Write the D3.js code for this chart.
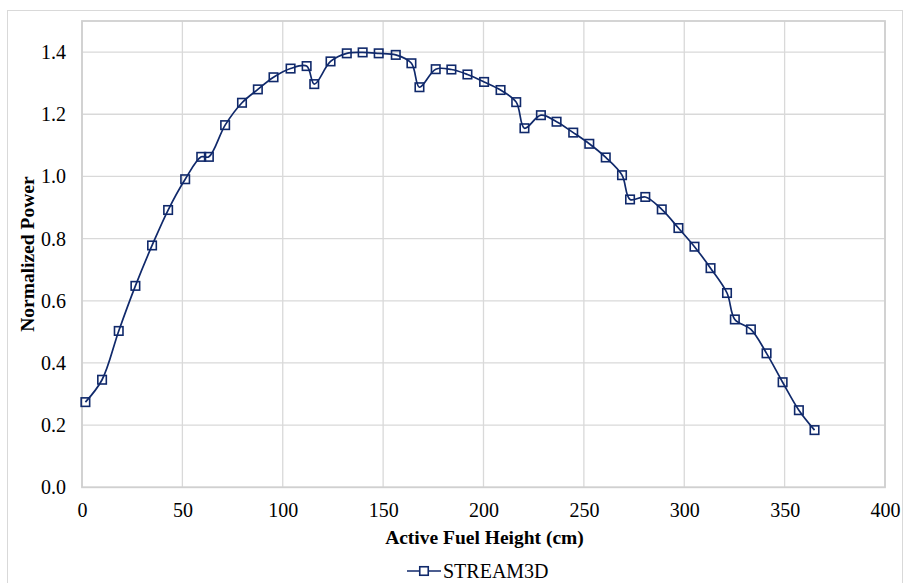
<!DOCTYPE html>
<html>
<head>
<meta charset="utf-8">
<script src="https://cdn.jsdelivr.net/npm/d3@7"></script>
<style>
  html, body { margin: 0; padding: 0; background: #fff; }
  svg { display: block; }
  svg text { font-family: "Liberation Serif", "Times New Roman", Times, serif !important; fill: #000; }
</style>
</head>
<body>
<div id="chart"></div>
<script>
// Axial power profile along the active fuel height
const heights = [1.7, 10.0, 18.3, 26.6, 34.9, 42.9, 51.4, 59.4, 63.2, 71.3,
  79.7, 87.6, 95.4, 103.9, 111.9, 115.7, 123.8, 131.9, 139.8, 147.8,
  156.3, 164.1, 168.1, 176.2, 184.0, 192.0, 200.3, 208.5, 216.3, 220.4,
  228.6, 236.4, 244.7, 252.7, 260.9, 269.0, 273.0, 280.6, 288.8, 297.1,
  305.1, 313.1, 321.3, 325.2, 333.2, 341.0, 349.0, 357.1, 364.9];
const power = [0.274, 0.346, 0.503, 0.648, 0.778, 0.892, 0.991, 1.063, 1.063, 1.165,
  1.237, 1.280, 1.319, 1.347, 1.355, 1.297, 1.370, 1.396, 1.399, 1.396,
  1.391, 1.364, 1.287, 1.345, 1.344, 1.328, 1.304, 1.278, 1.239, 1.155,
  1.197, 1.176, 1.141, 1.105, 1.061, 1.004, 0.926, 0.934, 0.894, 0.834,
  0.774, 0.705, 0.625, 0.540, 0.508, 0.431, 0.338, 0.248, 0.184];
const xTicks = [0, 50, 100, 150, 200, 250, 300, 350, 400];
const yTicks = [0.0, 0.2, 0.4, 0.6, 0.8, 1.0, 1.2, 1.4];
const seriesName = "STREAM3D";
const xTitle = "Active Fuel Height (cm)";
const yTitle = "Normalized Power";

const W = 904, H = 583;
const plot = { left: 82, top: 21, right: 885, bottom: 487.3 };
const navy = "#10296b";
const grid = "#d9d9d9";
const serif = '"Liberation Serif", "Times New Roman", Times, serif';

const svg = d3.select("#chart").append("svg")
  .attr("width", W).attr("height", H);

// chart area frame
svg.append("rect")
  .attr("x", 7.5).attr("y", 10.5)
  .attr("width", W - 9).attr("height", H)
  .attr("fill", "#fff").attr("stroke", "#d9d9d9").attr("stroke-width", 1);

const x = d3.scaleLinear().domain([0, 400]).range([plot.left, plot.right]);
const y = d3.scaleLinear().domain([0, 1.5]).range([plot.bottom, plot.top]);

// gridlines
svg.append("g").selectAll("line").data(xTicks).join("line")
  .attr("x1", d => x(d)).attr("x2", d => x(d))
  .attr("y1", plot.top).attr("y2", plot.bottom)
  .attr("stroke", grid).attr("stroke-width", 1.3);
svg.append("g").selectAll("line").data(yTicks).join("line")
  .attr("x1", plot.left).attr("x2", plot.right)
  .attr("y1", d => y(d)).attr("y2", d => y(d))
  .attr("stroke", grid).attr("stroke-width", 1.3);

// plot area border
svg.append("rect")
  .attr("x", plot.left).attr("y", plot.top)
  .attr("width", plot.right - plot.left).attr("height", plot.bottom - plot.top)
  .attr("fill", "none").attr("stroke", "#d0d0d0").attr("stroke-width", 1.8);

// axes (labels only; lines come from the grid and border)
const xAxis = svg.append("g")
  .attr("transform", `translate(0,${plot.bottom})`)
  .call(d3.axisBottom(x).tickValues(xTicks).tickSize(0).tickPadding(16).tickFormat(d3.format("d")));
const yAxis = svg.append("g")
  .attr("transform", `translate(${plot.left},0)`)
  .call(d3.axisLeft(y).tickValues(yTicks).tickSize(0).tickPadding(16).tickFormat(d3.format(".1f")));
[xAxis, yAxis].forEach(g => {
  g.attr("font-family", serif).attr("font-size", 20);
  g.select(".domain").remove();
  g.selectAll("text").style("font-family", serif).style("font-size", "20px").attr("fill", "#000");
});

// axis titles
svg.append("text")
  .attr("x", (plot.left + plot.right) / 2 + 1).attr("y", 544)
  .attr("text-anchor", "middle")
  .style("font-family", serif).style("font-size", "19.5px").style("font-weight", "bold")
  .text(xTitle);
svg.append("text")
  .attr("transform", `translate(34,${(plot.top + plot.bottom) / 2}) rotate(-90)`)
  .attr("text-anchor", "middle")
  .style("font-family", serif).style("font-size", "19.5px").style("font-weight", "bold")
  .text(yTitle);

// series
const data = heights.map((h, i) => ({ h, p: power[i] }));
const line = d3.line()
  .x(d => x(d.h)).y(d => y(d.p))
  .curve(d3.curveCatmullRom.alpha(0.5));
svg.append("path")
  .datum(data)
  .attr("d", line)
  .attr("fill", "none").attr("stroke", navy).attr("stroke-width", 1.7);

const m = 8.5;
svg.append("g").selectAll("rect").data(data).join("rect")
  .attr("x", d => x(d.h) - m / 2).attr("y", d => y(d.p) - m / 2)
  .attr("width", m).attr("height", m)
  .attr("fill", "none").attr("stroke", navy).attr("stroke-width", 1.6);

// legend
const lg = svg.append("g").attr("transform", "translate(407,571)");
lg.append("line").attr("x1", 0).attr("x2", 34).attr("y1", 0).attr("y2", 0)
  .attr("stroke", navy).attr("stroke-width", 1.7);
lg.append("rect").attr("x", 17 - m / 2).attr("y", -m / 2).attr("width", m).attr("height", m)
  .attr("fill", "#fff").attr("stroke", navy).attr("stroke-width", 1.6);
lg.append("text").attr("x", 36).attr("y", 7)
  .style("font-family", serif).style("font-size", "20px").text(seriesName);
</script>
</body>
</html>
